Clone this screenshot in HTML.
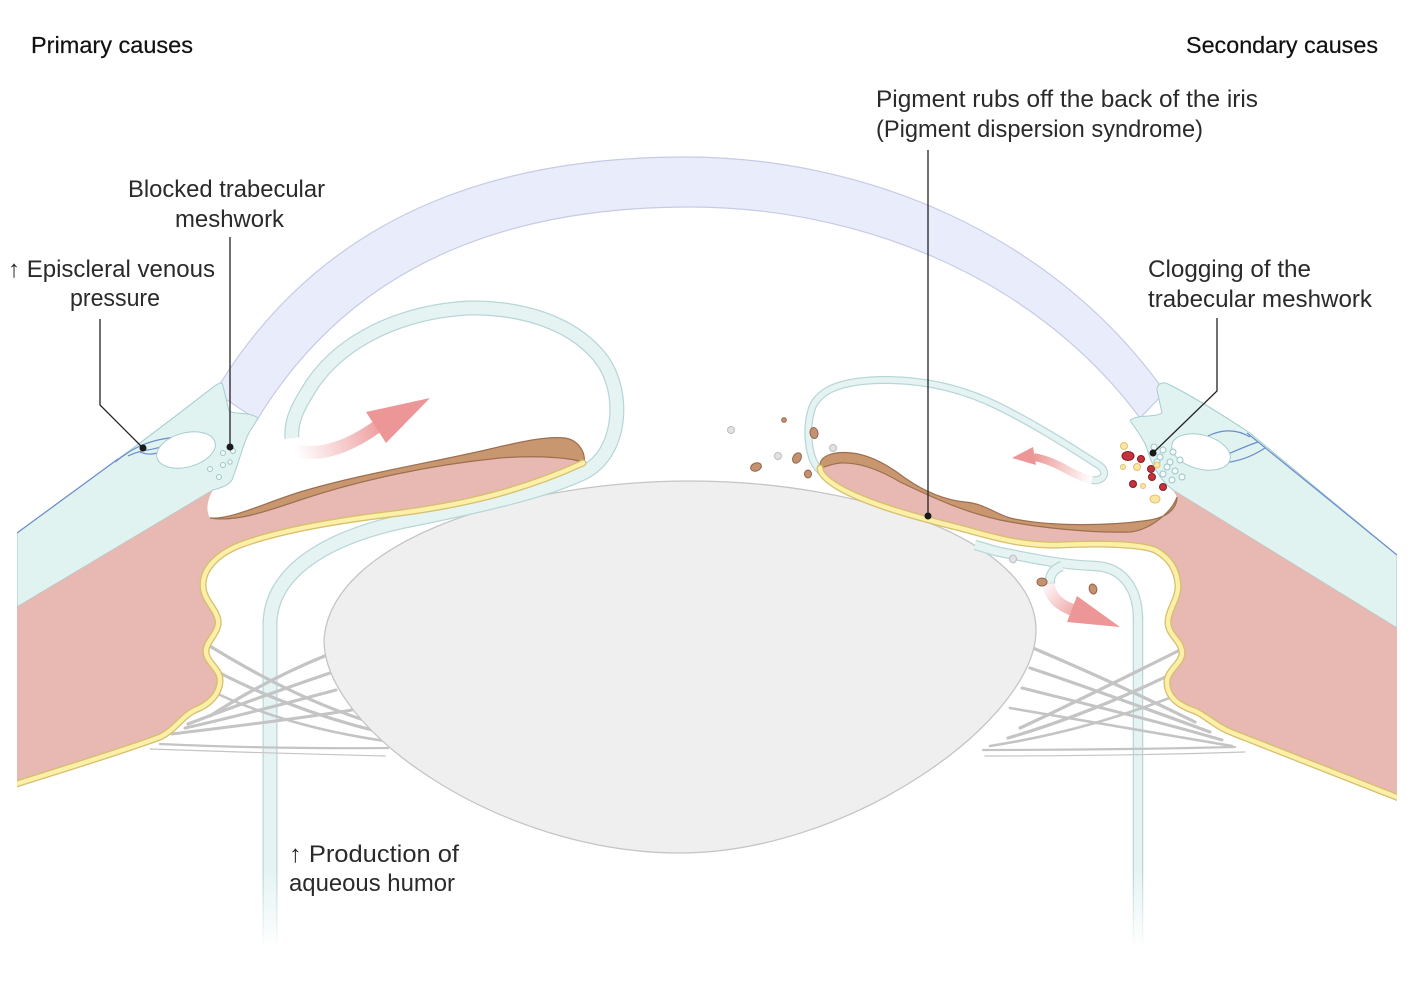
<!DOCTYPE html>
<html><head><meta charset="utf-8"><style>
html,body{margin:0;padding:0;background:#fff;}
svg{display:block;}
text{font-family:"Liberation Sans",Arial,sans-serif;fill:#2a2a2a;}
</style></head><body>
<svg width="1414" height="1000" viewBox="0 0 1414 1000" xmlns="http://www.w3.org/2000/svg">
<defs>
<clipPath id="clip"><rect x="17" y="0" width="1380" height="1000"/></clipPath>
<linearGradient id="gL" gradientUnits="userSpaceOnUse" x1="296" y1="452" x2="385" y2="425">
<stop offset="0" stop-color="#ee9a9b" stop-opacity="0"/><stop offset="1" stop-color="#ee9a9b"/></linearGradient>
<linearGradient id="gR1" gradientUnits="userSpaceOnUse" x1="1092" y1="480" x2="1035" y2="457">
<stop offset="0" stop-color="#ee9a9b" stop-opacity="0"/><stop offset="1" stop-color="#ee9a9b"/></linearGradient>
<linearGradient id="gR2" gradientUnits="userSpaceOnUse" x1="1046" y1="578" x2="1085" y2="612">
<stop offset="0" stop-color="#ee9a9b" stop-opacity="0"/><stop offset="1" stop-color="#ee9a9b"/></linearGradient>
<linearGradient id="fade" x1="0" y1="0" x2="0" y2="1">
<stop offset="0" stop-color="#fff" stop-opacity="0"/><stop offset="1" stop-color="#fff"/></linearGradient>
</defs>

<g clip-path="url(#clip)">
<!-- cornea -->
<path d="M 215 392 C 330 200, 520 157, 685 157 C 860 157, 1050 230, 1165 392 L 1140 418 C 1030 270, 850 207, 690 207 C 530 207, 360 250, 257 420 Z" fill="#e9ecfa" stroke="#c6cbe4" stroke-width="1.2"/>

<!-- sclera / limbus left -->
<path d="M 17 533 L 118 459 C 150 436, 190 405, 212 388 C 218 383, 223 381, 223 386 L 229 411 C 236 415, 248 411, 258 418 C 254 426, 248 432, 245 442 C 240 456, 236 470, 232 480 C 228 486, 220 488, 213 490 L 17 607 Z" fill="#e0f3f1" stroke="#a6cdcf" stroke-width="1"/>
<!-- sclera / limbus right -->
<path d="M 1397 555 L 1250 433 C 1215 410, 1190 395, 1170 385 C 1163 381, 1157 383, 1157 390 L 1162 413 C 1153 418, 1140 414, 1130 420 C 1136 430, 1145 440, 1148 452 C 1152 465, 1160 480, 1173 490 L 1397 628 Z" fill="#e0f3f1" stroke="#a6cdcf" stroke-width="1"/>

<!-- blue vessels -->
<g fill="none" stroke="#6a8ccc" stroke-width="1.2">
<path d="M 17 533 L 118 459"/>
<path d="M 115 462 C 135 446, 150 440, 176 437"/>
<path d="M 128 456 C 142 449, 150 451, 160 447"/>
<path d="M 140 452 C 152 457, 160 452, 168 448"/>
<path d="M 1247 433 L 1397 555"/>
<path d="M 1250 437 C 1235 428, 1220 430, 1208 436"/>
<path d="M 1258 442 C 1240 448, 1228 455, 1214 459"/>
<path d="M 1265 448 C 1250 458, 1235 462, 1222 463"/>
</g>

<!-- Schlemm canals -->
<ellipse cx="186" cy="450" rx="30" ry="17" transform="rotate(-15 186 450)" fill="#fff" stroke="#a6cdcf" stroke-width="1"/>
<ellipse cx="1201" cy="452" rx="30" ry="17" transform="rotate(15 1201 452)" fill="#fff" stroke="#a6cdcf" stroke-width="1"/>

<!-- trabecular circles -->
<g fill="#f4fbfa" stroke="#9cc5c7" stroke-width="1">
<circle cx="223" cy="453" r="2.5"/><circle cx="233" cy="451" r="2.5"/><circle cx="210" cy="469" r="2.5"/>
<circle cx="223" cy="465" r="2.5"/><circle cx="219" cy="477" r="2.5"/><circle cx="230" cy="462" r="2.2"/>
<circle cx="1154" cy="447" r="3"/><circle cx="1163" cy="450" r="3"/><circle cx="1173" cy="452" r="3"/>
<circle cx="1160" cy="457" r="3"/><circle cx="1170" cy="462" r="3"/><circle cx="1180" cy="460" r="3"/>
<circle cx="1167" cy="467" r="3"/><circle cx="1175" cy="471" r="3"/><circle cx="1182" cy="477" r="3"/>
<circle cx="1163" cy="474" r="3"/><circle cx="1172" cy="480" r="3"/><circle cx="1157" cy="462" r="3"/>
</g>

<!-- tube vertical parts -->
<g fill="none" stroke-linecap="butt">
<path d="M 270 945 L 270 620" stroke="#b8d6d8" stroke-width="15"/>
<path d="M 270 945 L 270 620" stroke="#e5f4f3" stroke-width="12.5"/>
<path d="M 1138 945 L 1138 615" stroke="#b8d6d8" stroke-width="10.5"/>
<path d="M 1138 945 L 1138 615" stroke="#e5f4f3" stroke-width="8"/>
</g>
<rect x="250" y="870" width="40" height="80" fill="url(#fade)"/>
<rect x="1120" y="870" width="36" height="80" fill="url(#fade)"/>

<!-- zonules -->
<g fill="none" stroke="#c4c4c4" stroke-linecap="round">
<path d="M 200 640 C 240 665, 300 700, 370 722" stroke-width="3.2"/>
<path d="M 205 665 C 250 690, 310 715, 380 732" stroke-width="3.2"/>
<path d="M 205 688 C 260 715, 320 732, 392 742" stroke-width="2.6"/>
<path d="M 327 655 C 290 670, 250 690, 210 716" stroke-width="3.2"/>
<path d="M 330 673 C 280 690, 230 708, 188 724" stroke-width="3.2"/>
<path d="M 336 690 C 280 705, 230 718, 185 728" stroke-width="3"/>
<path d="M 352 710 C 290 720, 220 728, 172 734" stroke-width="3"/>
<path d="M 160 744 Q 270 749, 388 748" stroke-width="2.2"/>
<path d="M 150 749 Q 260 753, 385 756" stroke-width="1.2"/>
<path d="M 1190 645 C 1140 670, 1080 700, 1020 728" stroke-width="3.2"/>
<path d="M 1190 665 C 1130 695, 1070 720, 1008 738" stroke-width="3.2"/>
<path d="M 1190 690 C 1120 718, 1060 735, 990 746" stroke-width="2.6"/>
<path d="M 1033 648 C 1080 668, 1140 695, 1195 722" stroke-width="3.2"/>
<path d="M 1030 668 C 1090 688, 1150 710, 1210 732" stroke-width="3.2"/>
<path d="M 1022 688 C 1090 705, 1160 722, 1222 740" stroke-width="3"/>
<path d="M 1010 708 C 1090 722, 1170 735, 1232 746" stroke-width="2.6"/>
<path d="M 1235 747 Q 1110 750, 983 750" stroke-width="2.2"/>
<path d="M 1245 752 Q 1120 756, 985 756" stroke-width="1.2"/>
</g>

<!-- lens -->
<path d="M 324 640 C 330 540, 520 481, 690 481 C 860 481, 1036 540, 1036 630 C 1036 720, 850 853, 680 853 C 500 853, 324 730, 324 640 Z" fill="#efefef" stroke="#c5c5c5" stroke-width="1.3"/>

<!-- tubes upper -->
<g fill="none" stroke-linecap="butt">
<path d="M 270 625 C 270 575, 320 540, 400 522 C 470 508, 545 492, 585 472 C 625 450, 625 385, 598 355 C 570 322, 520 307, 468 308 C 400 312, 343 340, 313 383 C 300 403, 290 420, 292 438" stroke="#b8d6d8" stroke-width="15"/>
<path d="M 270 625 C 270 575, 320 540, 400 522 C 470 508, 545 492, 585 472 C 625 450, 625 385, 598 355 C 570 322, 520 307, 468 308 C 400 312, 343 340, 313 383 C 300 403, 290 420, 292 438" stroke="#e5f4f3" stroke-width="12.5"/>
<path d="M 1138 620 C 1138 585, 1120 567, 1095 566 C 1065 565, 1040 560, 1000 552 C 990 550, 980 546, 975 545" stroke="#b8d6d8" stroke-width="10.5"/>
<path d="M 1138 620 C 1138 585, 1120 567, 1095 566 C 1065 565, 1040 560, 1000 552 C 990 550, 980 546, 975 545" stroke="#e5f4f3" stroke-width="8"/>
<path d="M 1062 566 C 1053 569, 1049 576, 1050 584" stroke="#b8d6d8" stroke-width="10.5"/>
<path d="M 1062 566 C 1053 569, 1049 576, 1050 584" stroke="#e5f4f3" stroke-width="8"/>
<path d="M 822 472 C 808 462, 805 430, 812 408 C 820 388, 845 381, 880 380 C 930 379, 970 392, 1000 407 C 1040 427, 1075 450, 1100 466 C 1108 472, 1104 482, 1092 480" stroke="#b8d6d8" stroke-width="8"/>
<path d="M 822 472 C 808 462, 805 430, 812 408 C 820 388, 845 381, 880 380 C 930 379, 970 392, 1000 407 C 1040 427, 1075 450, 1100 466 C 1108 472, 1104 482, 1092 480" stroke="#e5f4f3" stroke-width="5.5"/>
</g>

<!-- pink left -->
<path d="M 17 607 L 213 490 C 208 498, 205 510, 210 518 C 230 520, 262 504, 300 492 C 360 474, 430 463, 490 449 C 520 442, 545 436, 565 438 C 578 440, 586 452, 584 463 L 583 463 C 520 492, 460 505, 400 513 C 340 520, 280 530, 240 545 C 215 555, 203 570, 203 585 C 203 600, 216 608, 218 620 C 220 632, 207 640, 206 650 C 205 662, 220 668, 220 680 C 220 695, 208 705, 195 710 C 182 716, 175 730, 160 737 C 120 752, 60 770, 17 783 Z" fill="#e8b8b2"/>
<!-- pink right -->
<path d="M 820 468 C 818 455, 835 451, 852 453 C 870 455, 888 465, 905 478 C 925 492, 945 500, 965 502 C 985 504, 992 512, 1010 518 C 1050 527, 1110 526, 1150 520 C 1168 517, 1177 508, 1177 497 L 1173 490 L 1397 628 L 1397 797 C 1340 775, 1270 748, 1233 733 C 1215 726, 1205 715, 1195 711 C 1180 706, 1167 698, 1167 682 C 1167 670, 1183 663, 1182 652 C 1181 640, 1168 635, 1168 622 C 1168 610, 1179 598, 1178 585 C 1177 570, 1170 558, 1155 550 C 1140 544, 1100 543, 1060 545 C 1020 546, 990 536, 960 528 C 920 518, 870 505, 840 488 C 828 481, 820 474, 820 468 Z" fill="#e8b8b2"/>

<!-- brown pigment layer -->
<path d="M 210 518 C 230 520, 262 504, 300 492 C 360 474, 430 463, 490 449 C 520 442, 545 436, 565 438 C 578 440, 586 452, 584 463 C 575 458, 540 455, 500 458 C 430 465, 360 480, 300 500 C 262 513, 235 522, 210 518 Z" fill="#c9976f" stroke="#9d6f50" stroke-width="1.2"/>
<path d="M 820 468 C 818 455, 835 451, 852 453 C 870 455, 888 465, 905 478 C 925 492, 945 500, 965 502 C 985 504, 992 512, 1010 518 C 1050 527, 1110 526, 1150 520 C 1168 517, 1177 508, 1177 497 C 1172 512, 1150 530, 1130 532 C 1090 533, 1040 528, 1000 520 C 960 511, 930 496, 900 482 C 880 470, 860 462, 840 463 C 830 464, 823 468, 820 468 Z" fill="#c9976f" stroke="#9d6f50" stroke-width="1.2"/>

<!-- yellow epithelium -->
<g fill="none" stroke-linejoin="round" stroke-linecap="round">
<path d="M 583 463 C 520 492, 460 505, 400 513 C 340 520, 280 530, 240 545 C 215 555, 203 570, 203 585 C 203 600, 216 608, 218 620 C 220 632, 207 640, 206 650 C 205 662, 220 668, 220 680 C 220 695, 208 705, 195 710 C 182 716, 175 730, 160 737 C 120 752, 60 770, 10 786" stroke="#d6bf6d" stroke-width="7"/>
<path d="M 583 463 C 520 492, 460 505, 400 513 C 340 520, 280 530, 240 545 C 215 555, 203 570, 203 585 C 203 600, 216 608, 218 620 C 220 632, 207 640, 206 650 C 205 662, 220 668, 220 680 C 220 695, 208 705, 195 710 C 182 716, 175 730, 160 737 C 120 752, 60 770, 10 786" stroke="#fcefa8" stroke-width="4.4"/>
<path d="M 1404 800 C 1340 775, 1270 748, 1233 733 C 1215 726, 1205 715, 1195 711 C 1180 706, 1167 698, 1167 682 C 1167 670, 1183 663, 1182 652 C 1181 640, 1168 635, 1168 622 C 1168 610, 1179 598, 1178 585 C 1177 570, 1170 558, 1155 550 C 1140 544, 1100 543, 1060 545 C 1020 546, 990 536, 960 528 C 920 518, 870 505, 840 488 C 828 481, 820 474, 820 468" stroke="#d6bf6d" stroke-width="7"/>
<path d="M 1404 800 C 1340 775, 1270 748, 1233 733 C 1215 726, 1205 715, 1195 711 C 1180 706, 1167 698, 1167 682 C 1167 670, 1183 663, 1182 652 C 1181 640, 1168 635, 1168 622 C 1168 610, 1179 598, 1178 585 C 1177 570, 1170 558, 1155 550 C 1140 544, 1100 543, 1060 545 C 1020 546, 990 536, 960 528 C 920 518, 870 505, 840 488 C 828 481, 820 474, 820 468" stroke="#fcefa8" stroke-width="4.4"/>
</g>

<!-- arrows -->
<path d="M 294 450 C 320 458, 350 446, 378 426" fill="none" stroke="url(#gL)" stroke-width="13"/>
<polygon points="366,412 430,398 386,443" fill="#ed9697"/>
<path d="M 1092 480 C 1072 476, 1060 462, 1034 457" fill="none" stroke="url(#gR1)" stroke-width="8"/>
<polygon points="1033,447 1012,458 1036,465" fill="#ed9697"/>
<path d="M 1048 582 C 1050 598, 1060 606, 1076 611" fill="none" stroke="url(#gR2)" stroke-width="12"/>
<polygon points="1077,596 1120,627 1067,622" fill="#ed9697"/>

<!-- pigment particles -->
<g fill="#c49270" stroke="#946447" stroke-width="1">
<ellipse cx="756" cy="467" rx="5.5" ry="4" transform="rotate(-20 756 467)"/>
<ellipse cx="797" cy="458" rx="4" ry="5.5" transform="rotate(30 797 458)"/>
<ellipse cx="814" cy="433" rx="4" ry="5.5" transform="rotate(-10 814 433)"/>
<ellipse cx="808" cy="474" rx="3.5" ry="4"/>
<circle cx="784" cy="420" r="2.3"/>
<ellipse cx="1042" cy="582" rx="5" ry="4"/>
<ellipse cx="1093" cy="589" rx="3.8" ry="5" transform="rotate(-15 1093 589)"/>
</g>
<g fill="#e2e2e2" stroke="#bdbdbd" stroke-width="1">
<circle cx="731" cy="430" r="3.5"/><circle cx="778" cy="456" r="3.5"/><circle cx="833" cy="448" r="3.5"/>
<ellipse cx="1013" cy="559" rx="3.5" ry="4"/>
</g>

<!-- cells at right meshwork -->
<g fill="#c3333c" stroke="#8a1b22" stroke-width="1">
<ellipse cx="1128" cy="456" rx="6" ry="4.5"/>
<circle cx="1141" cy="459" r="3.5"/><circle cx="1151" cy="469" r="3.5"/><circle cx="1152" cy="477" r="3.5"/>
<circle cx="1133" cy="484" r="3.5"/><circle cx="1163" cy="487" r="3.5"/>
</g>
<g fill="#fbe6a2" stroke="#e0c274" stroke-width="1">
<circle cx="1124" cy="446" r="3.5"/><circle cx="1137" cy="467" r="3.5"/><circle cx="1123" cy="467" r="2.5"/>
<circle cx="1143" cy="486" r="2.5"/><ellipse cx="1155" cy="499" rx="5" ry="4"/><circle cx="1157" cy="465" r="3"/>
</g>
</g>

<!-- pointer lines -->
<g fill="none" stroke="#222" stroke-width="1.3">
<path d="M 100 319 L 100 405 L 143 448"/>
<path d="M 230 237 L 230 447"/>
<path d="M 928 150 L 928 516"/>
<path d="M 1217 318 L 1217 391 L 1153 453"/>
</g>
<g fill="#1a1a1a">
<circle cx="143" cy="448" r="3.5"/><circle cx="230" cy="447" r="3.5"/>
<circle cx="928" cy="516" r="3.5"/><circle cx="1153" cy="453" r="3.5"/>
</g>

<!-- text -->
<text x="31" y="53" font-size="23" textLength="162" lengthAdjust="spacingAndGlyphs" style="fill:#111;stroke:#111;stroke-width:0.2">Primary causes</text>
<text x="1186" y="53" font-size="23" textLength="192" lengthAdjust="spacingAndGlyphs" style="fill:#111;stroke:#111;stroke-width:0.2">Secondary causes</text>
<text x="876" y="107" font-size="24" textLength="382" lengthAdjust="spacingAndGlyphs">Pigment rubs off the back of the iris</text>
<text x="876" y="137" font-size="24" textLength="327" lengthAdjust="spacingAndGlyphs">(Pigment dispersion syndrome)</text>
<text x="128" y="197" font-size="24" textLength="197" lengthAdjust="spacingAndGlyphs">Blocked trabecular</text>
<text x="175" y="227" font-size="24" textLength="109" lengthAdjust="spacingAndGlyphs">meshwork</text>
<text x="8" y="277" font-size="24" textLength="207" lengthAdjust="spacingAndGlyphs">↑ Episcleral venous</text>
<text x="70" y="306" font-size="24" textLength="90" lengthAdjust="spacingAndGlyphs">pressure</text>
<text x="1148" y="277" font-size="24" textLength="163" lengthAdjust="spacingAndGlyphs">Clogging of the</text>
<text x="1148" y="307" font-size="24" textLength="224" lengthAdjust="spacingAndGlyphs">trabecular meshwork</text>
<text x="289" y="862" font-size="24" textLength="170" lengthAdjust="spacingAndGlyphs">↑ Production of</text>
<text x="289" y="891" font-size="24" textLength="166" lengthAdjust="spacingAndGlyphs">aqueous humor</text>
</svg>
</body></html>
